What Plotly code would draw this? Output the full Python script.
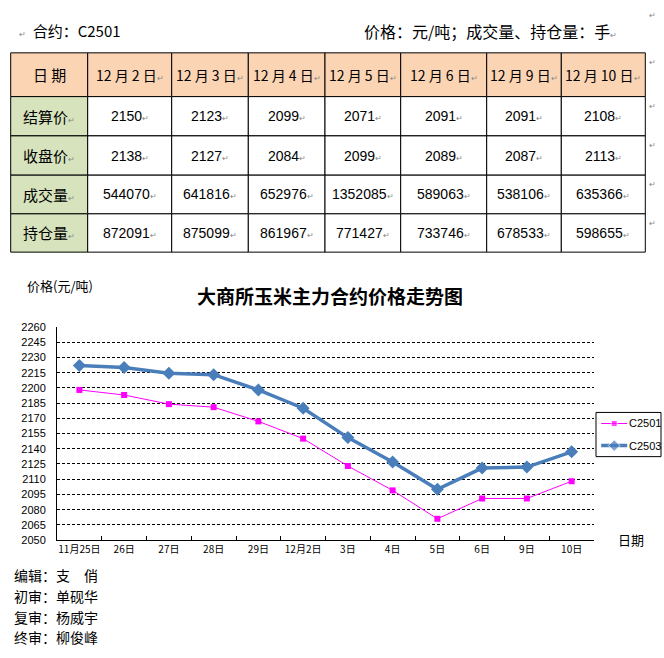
import plotly.graph_objects as go

# ---- table data (合约 C2501) ----
table_dates = ["12 月 2 日", "12 月 3 日", "12 月 4 日", "12 月 5 日",
               "12 月 6 日", "12 月 9 日", "12 月 10 日"]
row_names   = ["结算价", "收盘价", "成交量", "持仓量"]
settle      = [2150, 2123, 2099, 2071, 2091, 2091, 2108]
close_px    = [2138, 2127, 2084, 2099, 2089, 2087, 2113]
volume      = [544070, 641816, 652976, 1352085, 589063, 538106, 635366]
open_int    = [872091, 875099, 861967, 771427, 733746, 678533, 598655]

# ---- chart data ----
chart_days = ["11月25日", "26日", "27日", "28日", "29日", "12月2日",
              "3日", "4日", "5日", "6日", "9日", "10日"]
c2501 = [2198, 2193, 2184, 2181, 2167, 2150, 2123, 2099, 2071, 2091, 2091, 2108]
c2503 = [2222, 2220, 2214.5, 2213, 2198, 2180, 2151, 2127, 2100, 2121, 2122, 2137]
series_names = ["C2501", "C2503"]

editors = ["编辑：支　俏", "初审：单砚华", "复审：杨威宇", "终审：柳俊峰"]

# body margin is removed in the page (see post_script), figure fills the window
W, H = 664, 658
CJK = "Noto Sans CJK SC"
MARK = "<span style='font-size:8px;color:#888'>↵</span>"

PINK = "#FF00FF"
BLUE = "#4A7EBB"


def px(x):
    return x / W


def py(y):
    return 1 - y / H


fig = go.Figure()

# ── price chart ────────────────────────────────────────────
fig.add_trace(go.Scatter(
    x=chart_days, y=c2501, name=series_names[0],
    mode="lines+markers", showlegend=False,
    line=dict(color=PINK, width=1),
    marker=dict(symbol="square", size=6, color=PINK),
))
fig.add_trace(go.Scatter(
    x=chart_days, y=c2503, name=series_names[1],
    mode="lines+markers", showlegend=False,
    line=dict(color=BLUE, width=3.5),
    marker=dict(symbol="diamond", size=10, color=BLUE),
))

# legend drawn on a small hidden axis pair inside the legend box
leg_box = (596, 414, 661, 459)
fig.add_trace(go.Scatter(
    x=[0.08, 0.28, 0.48], y=[0.75, 0.75, 0.75], xaxis="x2", yaxis="y2",
    mode="lines+markers", showlegend=False, hoverinfo="skip",
    line=dict(color=PINK, width=1),
    marker=dict(symbol="square", size=[0, 6, 0], color=PINK),
))
fig.add_trace(go.Scatter(
    x=[0.08, 0.28, 0.48], y=[0.25, 0.25, 0.25], xaxis="x2", yaxis="y2",
    mode="lines+markers", showlegend=False, hoverinfo="skip",
    line=dict(color=BLUE, width=3.5),
    marker=dict(symbol="diamond", size=[0, 9, 0], color=BLUE),
))
for name, yy in zip(series_names, [0.75, 0.25]):
    fig.add_annotation(
        text=name, x=0.48, y=yy, xref="x2", yref="y2",
        xanchor="left", yanchor="middle", showarrow=False,
        font=dict(family="Liberation Sans", size=11, color="black"),
    )
fig.add_shape(
    type="rect", xref="paper", yref="paper",
    x0=px(leg_box[0]), x1=px(leg_box[2]), y0=py(leg_box[3]), y1=py(leg_box[1]),
    line=dict(color="black", width=1), fillcolor="rgba(0,0,0,0)",
)

fig.update_layout(
    width=W, height=H,
    autosize=False,
    margin=dict(l=0, r=0, t=0, b=0),
    paper_bgcolor="white",
    plot_bgcolor="white",
    font=dict(family="Liberation Sans", color="black"),
    showlegend=False,
    title=dict(
        text="<b>大商所玉米主力合约价格走势图</b>",
        font=dict(family=CJK, size=19, color="black"),
        x=px(330), xanchor="center",
        y=py(297), yanchor="middle",
    ),
    xaxis=dict(
        domain=[px(57), px(594)],
        type="category",
        range=[-0.5, 11.5],
        showgrid=False,
        showline=True, linecolor="black", linewidth=1,
        ticks="inside", tickson="boundaries", ticklen=4, tickcolor="black",
        tickfont=dict(family=CJK, size=10),
        tickangle=0,
        fixedrange=True,
    ),
    yaxis=dict(
        domain=[py(544), py(327)],
        range=[2050, 2260],
        tick0=2050, dtick=15,
        showgrid=True, gridcolor="black", gridwidth=1, griddash="3px,2px",
        showline=True, linecolor="black", linewidth=1,
        ticks="", ticklabelstandoff=8,
        tickfont=dict(family="Liberation Sans", size=11),
        zeroline=False,
        fixedrange=True,
    ),
    xaxis2=dict(domain=[px(leg_box[0]), px(leg_box[2])], range=[0, 1],
                visible=False, fixedrange=True, anchor="y2"),
    yaxis2=dict(domain=[py(leg_box[3]), py(leg_box[1])], range=[0, 1],
                visible=False, fixedrange=True, anchor="x2"),
)

# ── table (cells as shapes, texts as annotations) ──────────
col_w = [77, 84, 76.6, 76.7, 75.7, 86, 74.6, 84]
row_h = [44.6, 40, 40, 39.4, 39]
tab_x0, tab_y0 = 10.7, 47.7

col_x = [tab_x0]
for w in col_w:
    col_x.append(col_x[-1] + w)
row_y = [tab_y0]
for h in row_h:
    row_y.append(row_y[-1] + h)

body = [settle, close_px, volume, open_int]
grid_text = [["日 期"] + [d + MARK for d in table_dates]]
for name, vals in zip(row_names, body):
    grid_text.append([name + MARK] + [f"{v}{MARK}" for v in vals])

for r, row in enumerate(grid_text):
    for c, txt in enumerate(row):
        if r == 0:
            fill = "#FBD4B4"
        elif c == 0:
            fill = "#D6E3BC"
        else:
            fill = "white"
        fig.add_shape(
            type="rect", xref="paper", yref="paper", layer="below",
            x0=px(col_x[c]), x1=px(col_x[c + 1]),
            y0=py(row_y[r + 1]), y1=py(row_y[r]),
            line=dict(color="black", width=1), fillcolor=fill,
        )
        is_num = r > 0 and c > 0
        fig.add_annotation(
            text=txt, xref="paper", yref="paper", showarrow=False,
            x=px((col_x[c] + col_x[c + 1]) / 2),
            y=py((row_y[r] + row_y[r + 1]) / 2),
            xanchor="center", yanchor="middle",
            font=dict(family="Liberation Sans" if is_num else CJK,
                      size=14 if (is_num or (r == 0 and c > 0)) else 15,
                      color="black"),
        )

# paragraph marks right of the table rows
for y in [10] + [ry + 10 for ry in row_y[:-1]]:
    fig.add_annotation(
        text=MARK, x=px(647), y=py(y), xref="paper", yref="paper",
        xanchor="left", yanchor="middle", showarrow=False,
    )

# ── page texts around table and chart ──────────────────────
notes = [
    (MARK + "  合约：C2501", 17, 25, 15),
    ("价格：元/吨；成交量、持仓量：手" + MARK, 362, 25, 16),
    ("价格(元/吨)", 25, 285, 13),
    ("日期", 616, 543, 13),
]
for text, x, y, size in notes:
    fig.add_annotation(
        text=text, x=px(x), y=py(y), xref="paper", yref="paper",
        xanchor="left", yanchor="middle", showarrow=False,
        font=dict(family=CJK, size=size, color="black"),
    )

for i, line in enumerate(editors):
    fig.add_annotation(
        text=line, x=px(12), y=py(580 + 21 * i), xref="paper", yref="paper",
        xanchor="left", yanchor="middle", showarrow=False,
        font=dict(family=CJK, size=14, color="black"),
    )

fig.write_html(
    "out.html",
    config=dict(displayModeBar=False),
    post_script="document.body.style.margin='0';document.body.style.overflow='hidden';",
)
